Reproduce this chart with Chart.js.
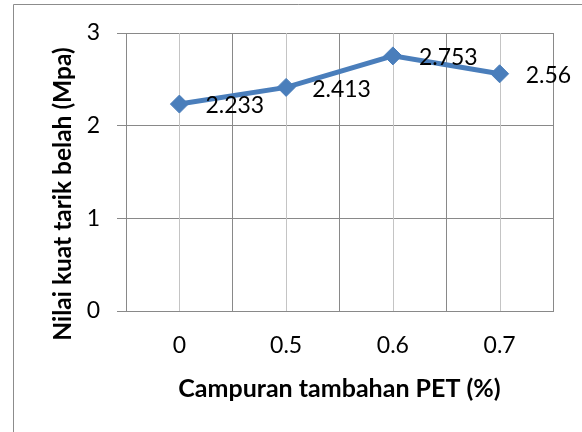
<!DOCTYPE html>
<html>
<head>
<meta charset="utf-8">
<script src="https://cdn.jsdelivr.net/npm/chart.js@4/dist/chart.umd.min.js"></script>
<style>
  html, body { margin: 0; padding: 0; background: #fff; }
  #chart { display: block; }
</style>
</head>
<body>
<canvas id="chart" width="582" height="432"></canvas>
<script>
// data
const categories = ["0", "0.5", "0.6", "0.7"];
const values = [2.233, 2.413, 2.753, 2.56];
const yTicks = [0, 1, 2, 3];

const xTitle = "Campuran tambahan PET (%)";
const yTitle = "Nilai kuat tarik belah (Mpa)";

const darkGrid = "#898989";
const lightGrid = "#c4c4c4";
const lineBlue = "#4a7ebb";

// outer frame of the chart object (only left and top edges visible)
const framePlugin = {
  id: "frame",
  beforeDraw(chart) {
    const ctx = chart.ctx;
    ctx.save();
    ctx.strokeStyle = "#8c8c8c";
    ctx.lineWidth = 1;
    ctx.beginPath();
    ctx.moveTo(13.5, 440);
    ctx.lineTo(13.5, 4.5);
    ctx.lineTo(600, 4.5);
    ctx.stroke();
    ctx.restore();
  },
};

// lighter lines through the middle of each category
const centerLinesPlugin = {
  id: "centerLines",
  beforeDatasetsDraw(chart) {
    const { ctx, chartArea } = chart;
    const xScale = chart.scales.x;
    ctx.save();
    ctx.strokeStyle = lightGrid;
    ctx.lineWidth = 1;
    categories.forEach((c, i) => {
      const x = Math.round(xScale.getPixelForValue(i)) + 0.5;
      ctx.beginPath();
      ctx.moveTo(x, chartArea.top);
      ctx.lineTo(x, chartArea.bottom);
      ctx.stroke();
    });
    ctx.restore();
  },
};

// value labels to the right of each point + rotated y title
const labelsPlugin = {
  id: "labels",
  afterDatasetsDraw(chart) {
    const ctx = chart.ctx;
    const meta = chart.getDatasetMeta(0);
    ctx.save();
    ctx.fillStyle = "#000";
    ctx.font = "23px Lato";
    ctx.textAlign = "left";
    ctx.textBaseline = "middle";
    meta.data.forEach((pt, i) => {
      ctx.fillText(String(values[i]), pt.x + 26, pt.y + 2);
    });
    ctx.restore();
  },
  afterDraw(chart) {
    const ctx = chart.ctx;
    ctx.save();
    ctx.translate(63.5, 194);
    ctx.rotate(-Math.PI / 2);
    ctx.fillStyle = "#000";
    ctx.font = "bold 24.5px Lato";
    ctx.textAlign = "center";
    ctx.textBaseline = "middle";
    ctx.fillText(yTitle, 0, 0);
    ctx.restore();
  },
};

const chart = new Chart(document.getElementById("chart"), {
  type: "line",
  data: {
    labels: categories,
    datasets: [
      {
        data: values,
        borderColor: lineBlue,
        backgroundColor: lineBlue,
        borderWidth: 5,
        pointStyle: "rectRot",
        pointRadius: 9,
        pointBorderWidth: 1,
        pointBackgroundColor: lineBlue,
        pointBorderColor: lineBlue,
        tension: 0,
      },
    ],
  },
  options: {
    responsive: false,
    animation: false,
    devicePixelRatio: 1,
    layout: { padding: { left: 0, top: 33, right: 29, bottom: 0 } },
    plugins: {
      legend: { display: false },
      tooltip: { enabled: false },
    },
    scales: {
      x: {
        type: "category",
        offset: true,
        afterFit(scale) {
          scale.height = 121;
        },
        grid: {
          offset: true,
          color: darkGrid,
          lineWidth: 1,
          drawTicks: false,
        },
        border: { display: true, color: darkGrid, width: 1 },
        ticks: {
          color: "#000",
          font: { family: "Lato", size: 23 },
          padding: 21,
        },
        title: {
          display: true,
          text: xTitle,
          color: "#000",
          font: { family: "Lato", size: 25, weight: "bold" },
          padding: { top: 0, bottom: 28 },
        },
      },
      y: {
        min: 0,
        max: 3,
        afterFit(scale) {
          scale.width = 126;
        },
        afterBuildTicks(scale) {
          scale.ticks = yTicks.map((v) => ({ value: v }));
        },
        grid: {
          color: darkGrid,
          lineWidth: 1,
          drawTicks: true,
          tickLength: 9,
          tickColor: darkGrid,
        },
        border: { display: true, color: darkGrid, width: 1 },
        ticks: {
          color: "#000",
          font: { family: "Lato", size: 23 },
          padding: 17,
        },
      },
    },
  },
  plugins: [framePlugin, centerLinesPlugin, labelsPlugin],
});
</script>
</body>
</html>
